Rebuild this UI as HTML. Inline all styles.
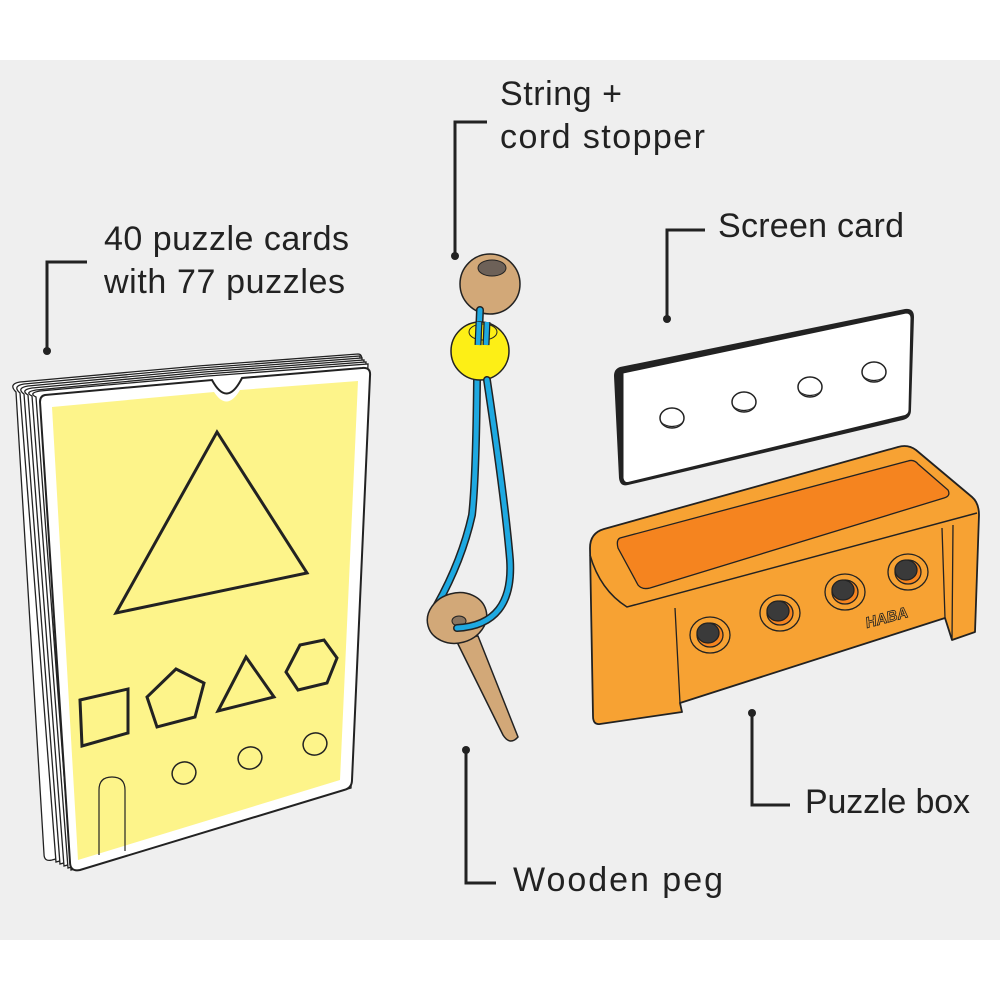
<!DOCTYPE html>
<html><head><meta charset="utf-8"><style>html,body{margin:0;padding:0;background:#fff}svg{display:block}</style></head><body>
<svg width="1000" height="1000" viewBox="0 0 1000 1000" xmlns="http://www.w3.org/2000/svg" font-family="Liberation Sans, sans-serif">
<rect x="0" y="0" width="1000" height="1000" fill="#fff"/>
<rect x="0" y="60" width="1000" height="880" fill="#efefef"/>
<g fill="#222" font-size="34">
<text x="500" y="105" textLength="122">String +</text>
<text x="500" y="148" textLength="205">cord stopper</text>
<text x="104" y="250" textLength="245">40 puzzle cards</text>
<text x="104" y="293" textLength="241">with 77 puzzles</text>
<text x="718" y="237" textLength="186">Screen card</text>
<text x="805" y="813" textLength="165">Puzzle box</text>
<text x="513" y="891" textLength="210">Wooden peg</text>
</g>
<g stroke="#222" stroke-width="3" fill="none">
<polyline points="87,262 47,262 47,350"/>
<polyline points="487,122 455,122 455,255"/>
<polyline points="705,230 667,230 667,318"/>
<polyline points="752,713 752,805 790,805"/>
<polyline points="466,750 466,883 496,883"/>
</g>
<g fill="#222"><circle cx="47" cy="351" r="4"/><circle cx="455" cy="256" r="4"/><circle cx="667" cy="319" r="4"/><circle cx="752" cy="713" r="4"/><circle cx="466" cy="750" r="4"/></g>
<!-- card stack -->
<g stroke="#222" stroke-width="1.3" fill="#fff">
<path d="M16,392 Q8,384 20,382 L198,366 L358,354 Q362,354 362,360 L342,780 L52,860 Q44,862 44,854 Z"/>
<path d="M20,393 Q12,386 24,384 L200,368 L360,356 L344,782 L56,862 Z"/>
<path d="M24,394 Q16,388 28,386 L202,370 L362,358 L346,784 L60,864 Z"/>
<path d="M28,395 Q20,390 32,388 L204,372 L364,360 L348,786 L64,866 Z"/>
<path d="M32,396 Q24,392 36,390 L206,374 L366,362 L350,787 L68,868 Z"/>
<path d="M36,397 Q28,393 40,391 L208,376 L368,364 L351,788 L71,870 Z"/>
<path d="M45,395 L212,380 Q227,408 242,378 L362,368 Q371,367 370,376 L352,780 Q352,788 344,790 L80,870 Q70,872 70,862 L40,402 Q40,396 45,395 Z" stroke-width="2"/>
</g>
<path d="M52,407 L214,392 Q227,412 240,390 L358,381 L340,780 L78,860 Z" fill="#fdf48a"/>
<path d="M99,855 L99,790 Q99,777 112,777 Q125,777 125,790 L125,851" fill="none" stroke="#222" stroke-width="1.2"/>
<g fill="none" stroke="#222" stroke-width="3" stroke-linejoin="miter">
<polygon points="217,432 307,573 116,613"/>
<polygon points="80,700 128,689 128,733 82,746"/>
<polygon points="176,669 204,683 195,717 157,727 147,697"/>
<polygon points="246,657 274,697 218,711"/>
<polygon points="300,645 324,640 337,658 327,683 298,690 286,672"/>
</g>
<g fill="none" stroke="#222" stroke-width="1.5">
<ellipse cx="184" cy="773" rx="12" ry="11" transform="rotate(-20 184 773)"/>
<ellipse cx="250" cy="758" rx="12" ry="11" transform="rotate(-20 250 758)"/>
<ellipse cx="315" cy="744" rx="12" ry="11" transform="rotate(-20 315 744)"/>
</g>
<!-- string + beads -->
<circle cx="490" cy="284" r="30" fill="#d2a878" stroke="#222" stroke-width="1.5"/>
<ellipse cx="492" cy="268" rx="14" ry="8" fill="#6d6158" stroke="#222" stroke-width="1"/>
<g fill="none" stroke-linecap="round">
<path d="M480,310 L477,380 Q476,480 472,515 Q462,560 437,605" stroke="#222" stroke-width="8"/>
<path d="M480,310 L477,380 Q476,480 472,515 Q462,560 437,605" stroke="#1ea9e1" stroke-width="5"/>
</g>
<circle cx="480" cy="351" r="29" fill="#fdef16" stroke="#222" stroke-width="1.5"/>
<ellipse cx="483" cy="332" rx="14" ry="8" fill="#fdef16" stroke="#222" stroke-width="1"/>
<path d="M479,322 L478,345 M487,322 L486,345" stroke="#222" stroke-width="7"/>
<path d="M479,322 L478,345 M487,322 L486,345" stroke="#1ea9e1" stroke-width="4.5"/>
<path d="M455,638 L503,735 Q510,746 518,737 L478,636 Z" fill="#d2a878" stroke="#222" stroke-width="1.5"/>
<ellipse cx="457" cy="618" rx="30" ry="25" transform="rotate(-15 457 618)" fill="#d2a878" stroke="#222" stroke-width="1.5"/>
<ellipse cx="459" cy="621" rx="7" ry="5" fill="#8a7560" stroke="#222"/>
<path d="M487,380 Q505,500 510,560 Q514,625 457,628" fill="none" stroke="#222" stroke-width="8" stroke-linecap="round"/>
<path d="M487,380 Q505,500 510,560 Q514,625 457,628" fill="none" stroke="#1ea9e1" stroke-width="5" stroke-linecap="round"/>
<!-- screen card -->
<path d="M620,367 L905,309 Q914,308 914,317 L911,410 Q911,418 903,420 L628,485 Q620,487 619,478 L614,376 Q614,369 620,367 Z" fill="#222"/>
<path d="M623,373 L906,313 Q911,313 911,318 L909,410 Q909,415 903,416 L630,482 Q624,484 623,478 Z" fill="#fff" stroke="#222" stroke-width="1"/>
<g fill="#fff" stroke="#222" stroke-width="1.5">
<ellipse cx="672" cy="418" rx="12" ry="10"/><ellipse cx="744" cy="402" rx="12" ry="10"/><ellipse cx="810" cy="387" rx="12" ry="10"/><ellipse cx="874" cy="372" rx="12" ry="10"/>
</g>
<g fill="#222"><path d="M661,421 A12,10 0 0 0 684,418 A12,8 0 0 1 661,421Z"/><path d="M733,405 A12,10 0 0 0 756,402 A12,8 0 0 1 733,405Z"/><path d="M799,390 A12,10 0 0 0 822,387 A12,8 0 0 1 799,390Z"/><path d="M863,375 A12,10 0 0 0 886,372 A12,8 0 0 1 863,375Z"/></g>
<!-- puzzle box -->
<path d="M590,548 Q590,533 604,529 L898,447 Q908,444 916,450 L972,497 Q979,503 979,515 L975,632 L952,640 L945,618 L680,703 L682,712 L600,724 Q593,725 593,716 Z" fill="#f7a233" stroke="#222" stroke-width="1.8" stroke-linejoin="round"/>
<path d="M590,555 Q600,590 627,607 L977,513" fill="none" stroke="#222" stroke-width="1.5"/>
<path d="M620,538 L908,461 Q914,459 918,464 L948,490 Q951,496 944,498 L650,588 Q642,590 638,585 L618,548 Q616,540 620,538 Z" fill="#f5841f" stroke="#222" stroke-width="1.3"/>
<path d="M675,608 L680,703 M942,528 L945,618 M953,525 L952,640" fill="none" stroke="#222" stroke-width="1.3"/>
<g stroke="#222" stroke-width="1.3">
<g transform="translate(710,635)"><ellipse rx="20" ry="18" fill="#f7a233"/><ellipse rx="13" ry="12" fill="#f5841f"/><ellipse cx="-2" cy="-2" rx="11" ry="10" fill="#3a3a3a"/></g>
<g transform="translate(780,613)"><ellipse rx="20" ry="18" fill="#f7a233"/><ellipse rx="13" ry="12" fill="#f5841f"/><ellipse cx="-2" cy="-2" rx="11" ry="10" fill="#3a3a3a"/></g>
<g transform="translate(845,592)"><ellipse rx="20" ry="18" fill="#f7a233"/><ellipse rx="13" ry="12" fill="#f5841f"/><ellipse cx="-2" cy="-2" rx="11" ry="10" fill="#3a3a3a"/></g>
<g transform="translate(908,572)"><ellipse rx="20" ry="18" fill="#f7a233"/><ellipse rx="13" ry="12" fill="#f5841f"/><ellipse cx="-2" cy="-2" rx="11" ry="10" fill="#3a3a3a"/></g>
</g>
<text x="867" y="628" font-size="15" font-weight="bold" font-style="italic" fill="#f7a233" stroke="#222" stroke-width="0.8" transform="rotate(-15 867 628)">HABA</text>
</svg>
</body></html>
